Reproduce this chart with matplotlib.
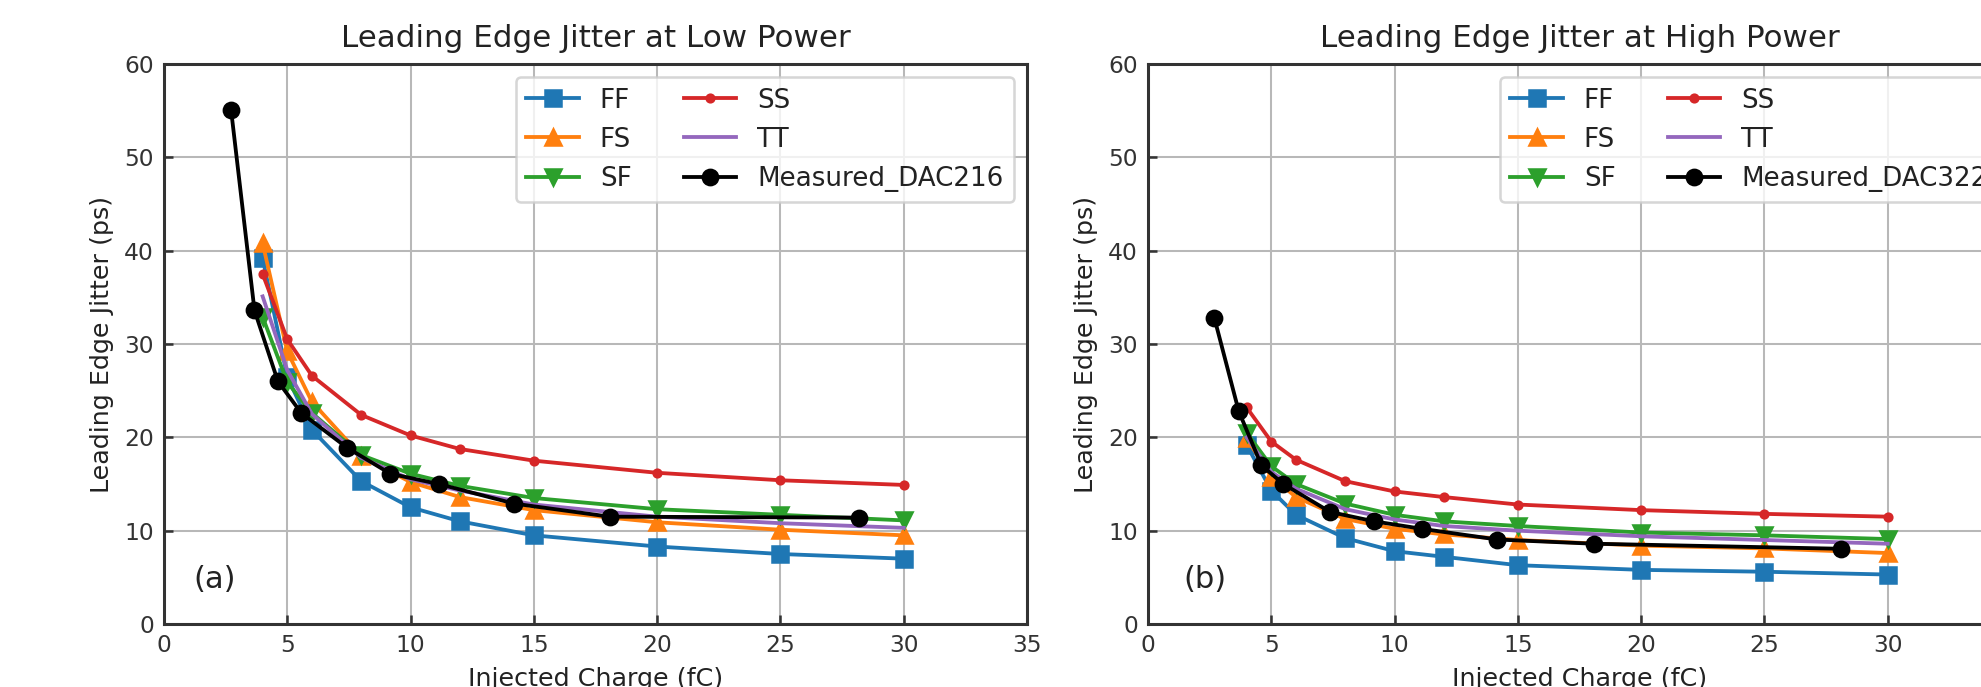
import numpy as np
import matplotlib
matplotlib.use("Agg")
import matplotlib.pyplot as plt

# Simulated corners, injected charge (fC)
charge = [4, 5, 6, 8, 10, 12, 15, 20, 25, 30]

# Low power jitter (ps)
low_ff = [39.2, 26.5, 20.8, 15.3, 12.5, 11.0, 9.5, 8.3, 7.5, 7.0]
low_fs = [40.8, 29.2, 23.8, 18.0, 15.2, 13.6, 12.2, 10.9, 10.1, 9.5]
low_sf = [32.9, 25.9, 22.6, 18.1, 16.1, 14.8, 13.5, 12.3, 11.7, 11.1]
low_ss = [37.5, 30.5, 26.6, 22.4, 20.2, 18.75, 17.5, 16.2, 15.4, 14.9]
low_tt = [35.1, 27.2, 22.5, 17.8, 15.5, 14.3, 12.8, 11.5, 10.8, 10.3]
low_meas_x = [2.72, 3.67, 4.62, 5.57, 7.42, 9.18, 11.14, 14.2, 18.07, 28.2]
low_meas_y = [55.1, 33.6, 26.0, 22.6, 18.9, 16.1, 15.0, 12.9, 11.5, 11.4]

# High power jitter (ps)
high_ff = [19.2, 14.3, 11.7, 9.2, 7.8, 7.2, 6.3, 5.8, 5.6, 5.3]
high_fs = [19.9, 15.8, 13.6, 11.25, 10.2, 9.6, 9.0, 8.4, 8.1, 7.6]
high_sf = [20.5, 16.9, 15.0, 12.9, 11.7, 11.0, 10.5, 9.8, 9.5, 9.1]
high_ss = [23.2, 19.55, 17.6, 15.3, 14.2, 13.6, 12.8, 12.2, 11.8, 11.5]
high_tt = [20.0, 16.3, 14.5, 12.3, 11.2, 10.5, 10.0, 9.4, 9.0, 8.6]
high_meas_x = [2.69, 3.68, 4.6, 5.49, 7.39, 9.17, 11.1, 14.17, 18.1, 28.1]
high_meas_y = [32.8, 22.8, 17.0, 15.0, 12.0, 11.0, 10.2, 9.05, 8.6, 8.06]

plt.rcParams['font.family'] = 'DejaVu Sans'
plt.rcParams['text.color'] = '#222222'
plt.rcParams['axes.labelcolor'] = '#222222'
plt.rcParams['xtick.color'] = '#333333'
plt.rcParams['ytick.color'] = '#333333'

dpi = 183
fig = plt.figure(figsize=(1982 / dpi, 687 / dpi), dpi=dpi)
# the right panel runs past the right edge, as in the cropped original
ax1 = fig.add_axes([164 / 1982, 63 / 687, 863 / 1982, 560 / 687])
ax2 = fig.add_axes([1148 / 1982, 63 / 687, 863 / 1982, 560 / 687])


def draw(ax, ff, fs, sf, ss, tt, mx, my, mlabel, title, tag, tagx):
    ax.plot(charge, ff, marker='s', color='C0', label='FF')
    ax.plot(charge, fs, marker='^', color='C1', label='FS')
    ax.plot(charge, sf, marker='v', color='C2', label='SF')
    ax.plot(charge, ss, marker='.', color='C3', label='SS')
    ax.plot(charge, tt, color='C4', label='TT')
    ax.plot(mx, my, marker='o', color='k', label=mlabel)
    ax.set_xlim(0, 35)
    ax.set_ylim(0, 60)
    ax.set_xticks(range(0, 36, 5))
    ax.set_yticks(range(0, 61, 10))
    ax.grid(True, color='#b8b8b8', linewidth=0.8)
    ax.set_axisbelow(True)
    ax.tick_params(direction='in', labelsize=9.2, length=3.5, width=1.0, pad=4)
    for s in ax.spines.values():
        s.set_color('#333333')
        s.set_linewidth(1.2)
    ax.set_xlabel('Injected Charge (fC)', fontsize=10)
    ax.set_ylabel('Leading Edge Jitter (ps)', fontsize=10)
    ax.set_title(title, fontsize=12.2, pad=6.5)
    ax.text(tagx, 4.8, tag, fontsize=12, ha='center', va='center')
    ax.legend(ncol=2, loc='upper right', fontsize=10.3)


draw(ax1, low_ff, low_fs, low_sf, low_ss, low_tt, low_meas_x, low_meas_y,
     'Measured_DAC216', 'Leading Edge Jitter at Low Power', '(a)', 2.05)
draw(ax2, high_ff, high_fs, high_sf, high_ss, high_tt, high_meas_x, high_meas_y,
     'Measured_DAC322', 'Leading Edge Jitter at High Power', '(b)', 2.3)

fig.savefig('out.png', dpi=dpi)
